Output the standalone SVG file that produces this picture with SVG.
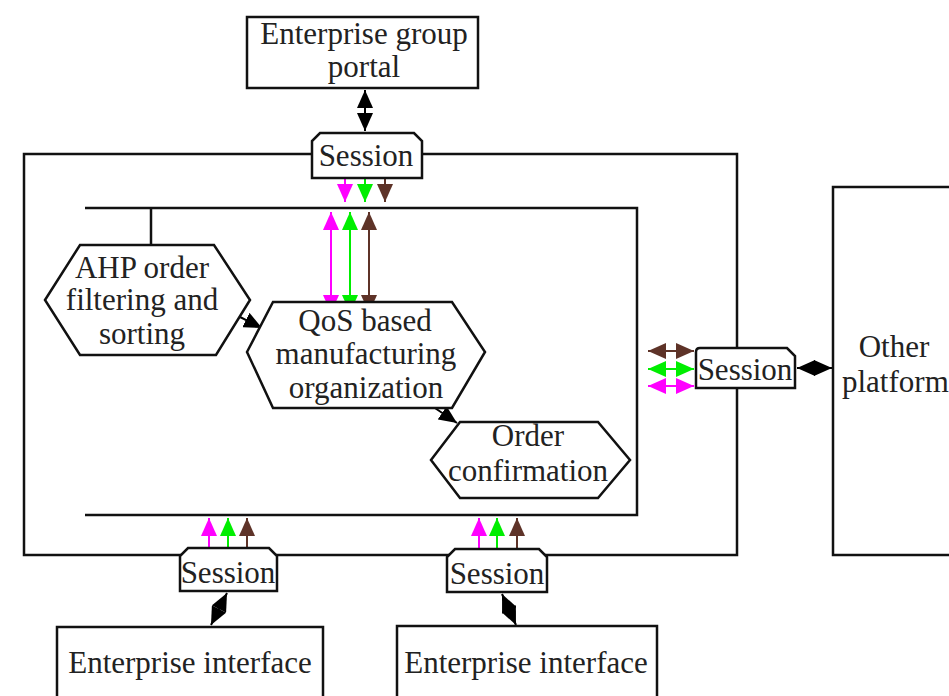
<svg xmlns="http://www.w3.org/2000/svg" width="949" height="696" viewBox="0 0 949 696">
<style>
.b{fill:#fff;stroke:#111;stroke-width:2.5}
.ln{fill:none;stroke:#111;stroke-width:2.5}
text{font-family:"Liberation Serif","Times New Roman",serif;font-size:31px;fill:#222;text-anchor:middle}
.m{stroke:#ff00ff;stroke-width:2;fill:none}
.g{stroke:#00ee00;stroke-width:2;fill:none}
.r{stroke:#5e3328;stroke-width:2;fill:none}
.k{stroke:#000;stroke-width:2;fill:none}
</style>
<defs>
<marker id="am" viewBox="0 0 10 10" refX="10" refY="5" markerWidth="9" markerHeight="8" markerUnits="strokeWidth" orient="auto-start-reverse" preserveAspectRatio="none"><path d="M0,0 L10,5 L0,10 Z" fill="#ff00ff"/></marker>
<marker id="ag" viewBox="0 0 10 10" refX="10" refY="5" markerWidth="9" markerHeight="8" markerUnits="strokeWidth" orient="auto-start-reverse" preserveAspectRatio="none"><path d="M0,0 L10,5 L0,10 Z" fill="#00ee00"/></marker>
<marker id="ar" viewBox="0 0 10 10" refX="10" refY="5" markerWidth="9" markerHeight="8" markerUnits="strokeWidth" orient="auto-start-reverse" preserveAspectRatio="none"><path d="M0,0 L10,5 L0,10 Z" fill="#5e3328"/></marker>
<marker id="ak" viewBox="0 0 10 10" refX="10" refY="5" markerWidth="9" markerHeight="8" markerUnits="strokeWidth" orient="auto-start-reverse" preserveAspectRatio="none"><path d="M0,0 L10,5 L0,10 Z" fill="#000"/></marker>
</defs>

<g id="platform-frame">
<rect class="b" x="24" y="154" width="713" height="401"/>
</g>
<g id="inner-frame">
<path class="ln" d="M85,208 L637,208 L637,515 L85,515"/>
<path class="ln" d="M151,208 L151,245"/>
</g>

<g id="connectors">
<path class="k" d="M365,90 L365,131" marker-start="url(#ak)" marker-end="url(#ak)"/>
<path class="m" d="M345,179 L345,202" marker-end="url(#am)"/>
<path class="g" d="M365,179 L365,202" marker-end="url(#ag)"/>
<path class="r" d="M385,179 L385,202" marker-end="url(#ar)"/>
<path class="m" d="M331,212 L331,313" marker-start="url(#am)" marker-end="url(#am)"/>
<path class="g" d="M350,212 L350,313" marker-start="url(#ag)" marker-end="url(#ag)"/>
<path class="r" d="M369,212 L369,313" marker-start="url(#ar)" marker-end="url(#ar)"/>
<path class="k" d="M240,317 L262,328" marker-end="url(#ak)"/>
<path class="k" d="M432,406 L457,423" marker-end="url(#ak)"/>
<path class="r" d="M648,351 L694,351" marker-start="url(#ar)" marker-end="url(#ar)"/>
<path class="g" d="M648,369 L694,369" marker-start="url(#ag)" marker-end="url(#ag)"/>
<path class="m" d="M648,386 L694,386" marker-start="url(#am)" marker-end="url(#am)"/>
<path class="k" d="M797,368 L832,368" marker-start="url(#ak)" marker-end="url(#ak)"/>
<path class="m" d="M209,547 L209,518" marker-end="url(#am)"/>
<path class="g" d="M228,547 L228,518" marker-end="url(#ag)"/>
<path class="r" d="M247,547 L247,518" marker-end="url(#ar)"/>
<path class="m" d="M479,548 L479,518" marker-end="url(#am)"/>
<path class="g" d="M497,548 L497,518" marker-end="url(#ag)"/>
<path class="r" d="M517,548 L517,518" marker-end="url(#ar)"/>
<path class="k" d="M227,593 L211,625" marker-start="url(#ak)" marker-end="url(#ak)"/>
<path class="k" d="M502,594 L516,625" marker-start="url(#ak)" marker-end="url(#ak)"/>
</g>

<g id="portal">
<rect class="b" x="247" y="17" width="231" height="71"/>
<text x="364" y="44">Enterprise group</text>
<text x="364" y="77">portal</text>
</g>

<g id="session-top">
<path class="b" d="M312,178 L312,141 L320,133 L414,133 L422,141 L422,178 Z"/>
<text x="366" y="166">Session</text>
</g>

<g id="ahp">
<polygon class="b" points="45,300 80,245 214,245 250,300 216,355 80,355"/>
<text x="142" y="278">AHP order</text>
<text x="142" y="310">filtering and</text>
<text x="142" y="344">sorting</text>
</g>

<g id="qos">
<polygon class="b" points="247,352 273,302 452,302 485,352 452,408 273,408"/>
<text x="365" y="331">QoS based</text>
<text x="366" y="364">manufacturing</text>
<text x="366" y="398">organization</text>
</g>

<g id="order">
<polygon class="b" points="431,460 460,422 598,422 630,460 598,498 460,498"/>
<text x="528" y="446">Order</text>
<text x="528" y="481">confirmation</text>
</g>

<g id="session-right">
<path class="b" d="M696,388 L696,352 Q696,348 700,348 L787,348 L795,356 L795,388 Z"/>
<text x="745" y="380">Session</text>
</g>

<g id="other-platform">
<rect class="b" x="833" y="187" width="130" height="368"/>
<text x="894" y="357">Other</text>
<text x="842" y="392" style="text-anchor:start">platform</text>
</g>

<g id="session-bottom-left">
<path class="b" d="M180,591 L180,556 L188,548 L269,548 L277,556 L277,591 Z"/>
<text x="228" y="583">Session</text>
</g>

<g id="session-bottom-right">
<path class="b" d="M447,592 L447,557 L455,549 L539,549 L547,557 L547,592 Z"/>
<text x="497" y="584">Session</text>
</g>

<g id="enterprise-interface-left">
<rect class="b" x="57" y="627" width="266" height="80"/>
<text x="190" y="673">Enterprise interface</text>
</g>

<g id="enterprise-interface-right">
<rect class="b" x="397" y="626" width="260" height="80"/>
<text x="526" y="673">Enterprise interface</text>
</g>
</svg>
